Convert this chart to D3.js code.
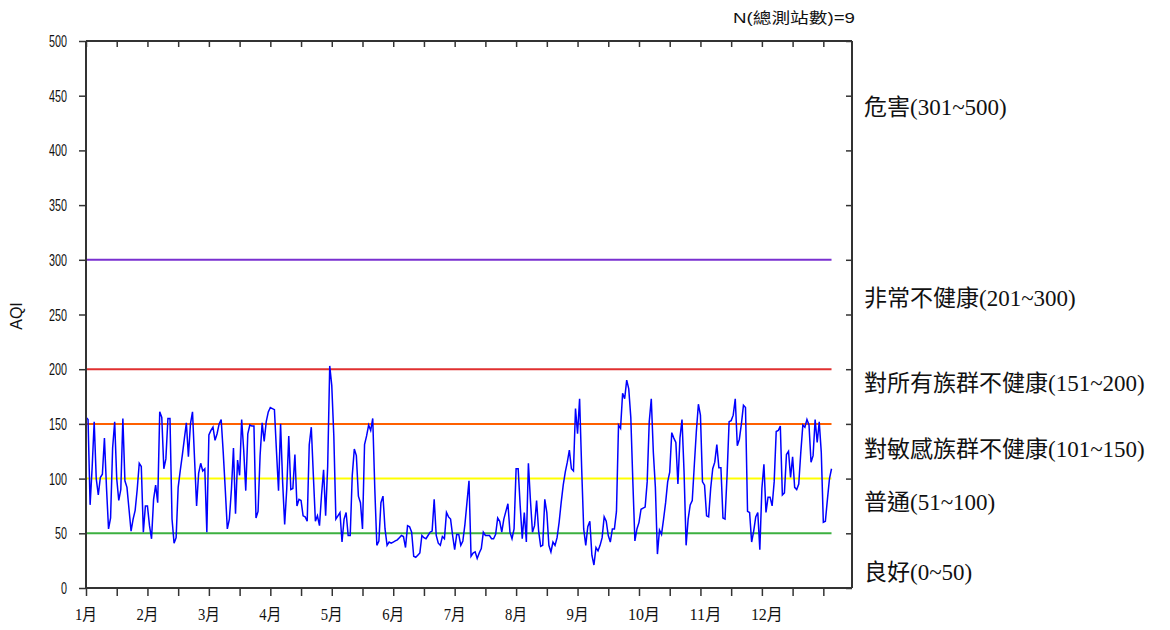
<!DOCTYPE html>
<html><head><meta charset="utf-8">
<script src="https://cdn.jsdelivr.net/npm/d3@7"></script>
<style>body{margin:0;background:#fff}svg{display:block}</style>
</head><body><svg id="c" width="1170" height="630"></svg>
<script>
const monthLabels = ["1月","2月","3月","4月","5月","6月","7月","8月","9月","10月","11月","12月"];
const yTicks = [0,50,100,150,200,250,300,350,400,450,500];
const aqi = [
156,154,76,110,152,100,85,101,104,137,92,54,64,128,152,100,80,90,155,98,
92,72,52,63,71,90,114,111,51,75,75,57,45,81,94,78,161,156,109,118,
155,155,63,41,46,92,107,121,136,151,120,150,161,118,75,105,114,107,109,51,
140,144,147,135,141,150,154,124,90,54,63,90,128,68,117,103,154,126,89,141,
149,148,148,64,70,121,151,134,152,161,165,164,163,125,89,150,97,58,90,139,
90,91,122,75,81,80,66,65,61,131,147,103,61,66,57,85,108,66,111,203,
185,139,
63,66,69,42,63,69,48,48,103,127,121,84,78,54,131,139,149,144,155,91,
39,43,78,84,54,39,42,41,42,43,44,46,48,47,37,57,56,51,29,28,
30,32,48,46,45,48,51,52,81,48,41,39,47,45,69,65,63,48,35,49,
49,39,43,58,78,98,29,32,33,27,32,36,51,48,48,48,45,45,49,64,
61,51,63,70,77,51,45,54,109,109,75,45,69,42,114,80,51,57,80,52,
38,39,81,69,39,33,42,39,46,60,78,94,106,115,126,109,107,164,141,173,
110,54,39,56,61,30,21,37,34,39,46,65,61,48,42,54,54,70,149,146,
178,173,190,182,156,97,43,54,60,72,73,74,97,152,173,124,92,31,53,49,
63,78,97,106,142,137,133,95,137,154,106,39,63,76,80,112,143,168,158,97,
94,66,65,91,109,115,131,110,110,64,63,103,152,153,158,173,130,136,150,167,
165,70,69,42,52,65,69,35,91,113,69,83,83,75,97,143,144,148,85,87,
122,125,101,120,92,90,95,124,149,147,154,149,115,121,154,133,152,124,60,61,
81,100,109];
const levelValues = [50,100,150,200,300];
const levelColors = ["#3cb040","#ffff00","#ff6000","#e03030","#7a30d0"];
const levelLabels = ["良好(0~50)","普通(51~100)","對敏感族群不健康(101~150)","對所有族群不健康(151~200)","非常不健康(201~300)","危害(301~500)"];
const levelLabelValues = [15,79,127,187,265,440];
const stationNote = "N(總測站數)=9";
const yTitle = "AQI";

const svg = d3.select("#c");
const L=86, R=852, T=41, B=588;
const x = d3.scaleLinear().domain([0,374]).range([L,R]);
const y = d3.scaleLinear().domain([0,500]).range([B,T]);
const axisColor = "#333";
const sans = "'Liberation Sans',Arial,sans-serif";
const serif = "'Liberation Serif','Noto Sans CJK TC',serif";

// reference lines
const dataEnd = x(aqi.length-1);
svg.append("g").selectAll("line").data(levelValues).join("line")
  .attr("x1",L).attr("x2",dataEnd)
  .attr("y1",d=>y(d)).attr("y2",d=>y(d))
  .attr("stroke",(d,i)=>levelColors[i]).attr("stroke-width",2);

// data line
svg.append("path").datum(aqi)
  .attr("d", d3.line().x((d,i)=>x(i)).y(d=>y(d)))
  .attr("fill","none").attr("stroke","#0000ff").attr("stroke-width",1.5);

// axes
const xt = d3.range(0,361,15);
const gb = svg.append("g").attr("transform",`translate(0,${B})`)
  .call(d3.axisBottom(x).tickValues(xt).tickSize(8).tickFormat(""));
const gt = svg.append("g").attr("transform",`translate(0,${T})`)
  .call(d3.axisBottom(x).tickValues(xt).tickSize(6).tickFormat(""));
const gl = svg.append("g").attr("transform",`translate(${L},0)`)
  .call(d3.axisLeft(y).tickValues(yTicks).tickSize(7).tickFormat(""));
const gr = svg.append("g").attr("transform",`translate(${R},0)`)
  .call(d3.axisLeft(y).tickValues(yTicks).tickSize(6).tickFormat(""));
[gb,gt,gl,gr].forEach(g=>{
  g.select(".domain").attr("stroke",axisColor).attr("stroke-width",2);
  g.selectAll(".tick line").attr("stroke",axisColor).attr("stroke-width",1.5);
});
gb.select(".domain").attr("d",`M${L},0H${R}`);
gt.select(".domain").attr("d",`M${L},0H${R}`);
gl.select(".domain").attr("d",`M0,${T}V${B}`);
gr.select(".domain").attr("d",`M0,${T}V${B}`);

// y tick labels (condensed)
svg.append("g").selectAll("text").data(yTicks).join("text")
  .attr("x",67).attr("y",d=>y(d)+6)
  .attr("text-anchor","end")
  .style("font-family",sans).style("font-size","17px").attr("fill","#111")
  .attr("textLength",d=>String(d).length*6).attr("lengthAdjust","spacingAndGlyphs")
  .text(d=>d);

// month labels
svg.append("g").selectAll("text").data(monthLabels).join("text")
  .attr("x",(d,i)=>x(i*30)-11).attr("y",620)
  .attr("font-family",serif).attr("font-size",16).attr("fill","#111")
  .attr("textLength",(d)=>d.length>2?32:22).attr("lengthAdjust","spacingAndGlyphs")
  .text(d=>d);

// level labels
svg.append("g").selectAll("text").data(levelLabels).join("text")
  .attr("x",864).attr("y",(d,i)=>y(levelLabelValues[i])+8)
  .attr("font-family",serif).attr("font-size",23).attr("fill","#111")
  .text(d=>d);

// y title
svg.append("text").attr("transform","translate(22,316) rotate(-90)")
  .attr("text-anchor","middle").attr("font-family",sans)
  .attr("font-size",16).attr("fill","#111").text(yTitle);

// station note
svg.append("text").attr("x",733).attr("y",23)
  .attr("font-family",sans+",'Noto Sans CJK TC'").attr("font-size",15).attr("fill","#111")
  .attr("textLength",122).attr("lengthAdjust","spacingAndGlyphs")
  .text(stationNote);
</script></body></html>
